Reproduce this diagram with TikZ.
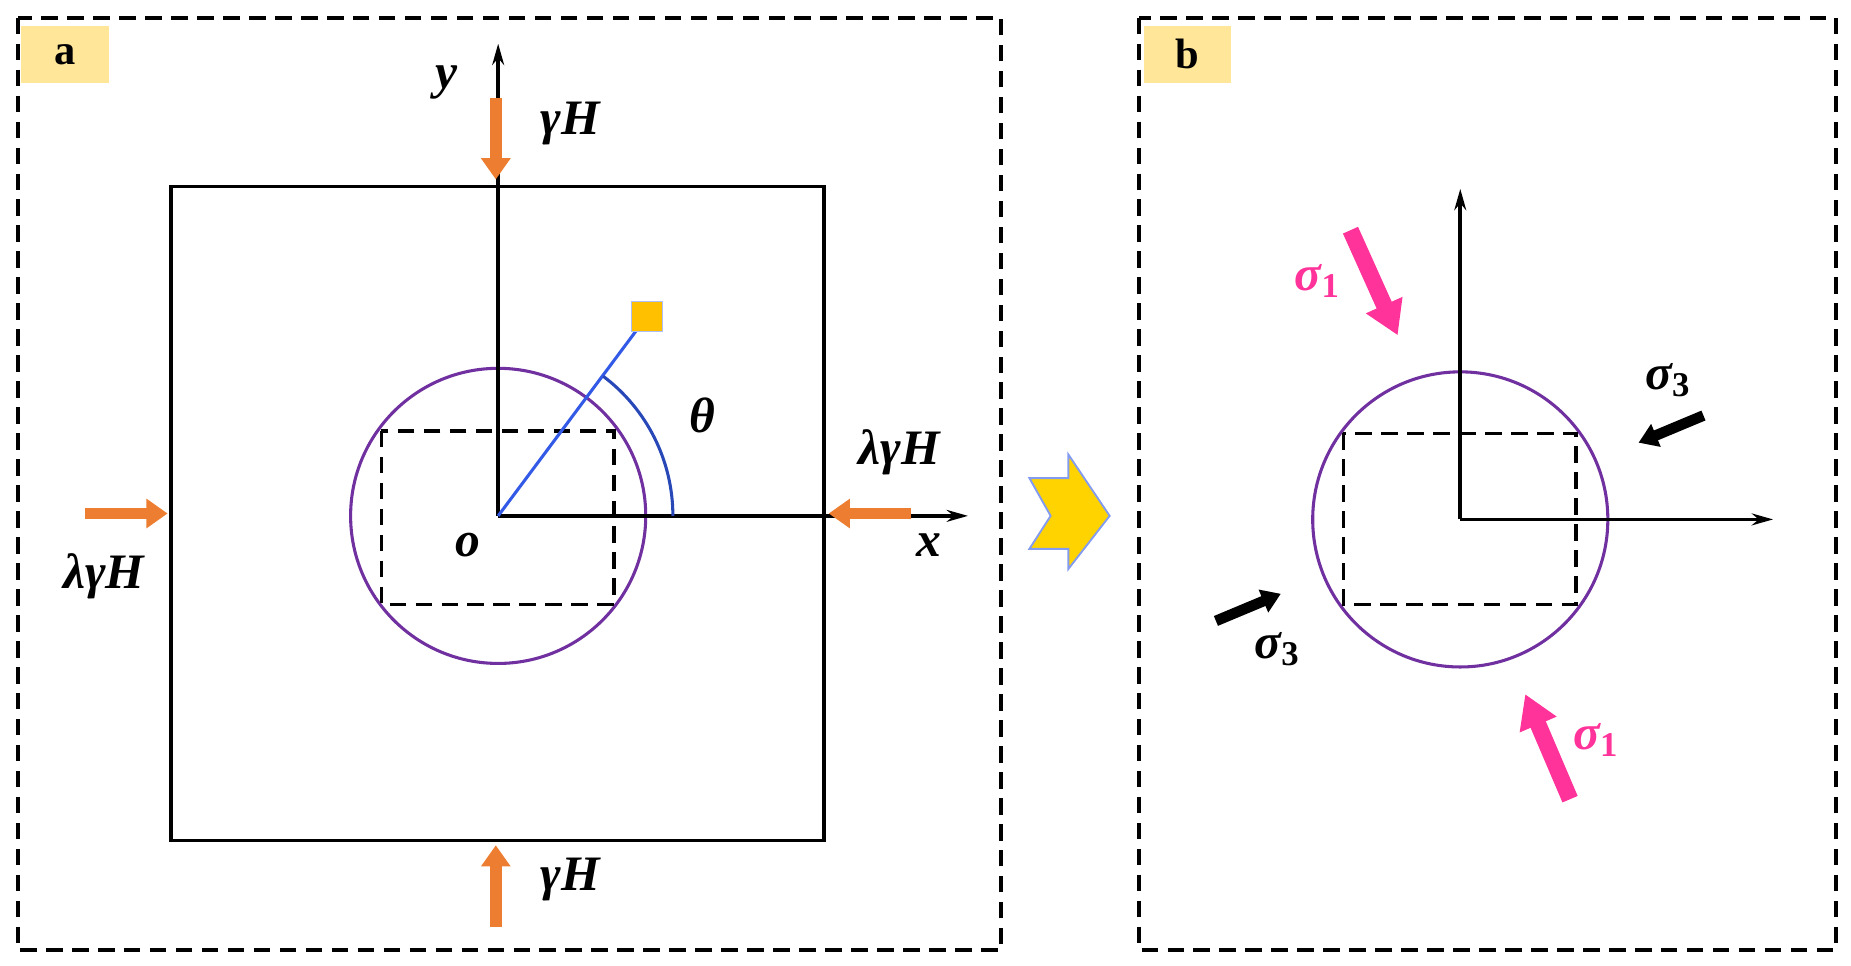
\documentclass[tikz,border=0pt]{standalone}
\usepackage{fontspec}
\setmainfont{Liberation Serif}
\usetikzlibrary{arrows.meta}
\definecolor{org}{RGB}{237,125,49}
\definecolor{pink}{RGB}{255,51,153}
\definecolor{lab}{RGB}{255,230,153}
\definecolor{purp}{RGB}{112,48,160}
\definecolor{bl}{RGB}{50,90,230}
\definecolor{gold}{RGB}{255,192,0}
\begin{document}
\begin{tikzpicture}[x=0.5pt,y=-0.5pt,
 frame/.style={line width=1.8pt,dash pattern=on 7pt off 4pt},
 box/.style={line width=1.6pt},
 axis/.style={line width=1.6pt,-{Stealth[length=9pt,width=5pt]}},
 force/.style={org,line width=5pt,-{Triangle[length=9pt,width=12pt]}},
 pf/.style={pink,line width=7pt,-{Triangle[length=14pt,width=16pt]}},
 bf/.style={black,line width=4.5pt,-{Triangle[length=8pt,width=10pt]}},
 lbl/.style={font=\fontsize{21}{21}\selectfont\bfseries\itshape,inner sep=0pt},
 tag/.style={fill=lab,minimum width=37pt,minimum height=24pt,font=\fontsize{18}{18}\selectfont\bfseries}]
\useasboundingbox (0,0) rectangle (1568,818);
\draw[frame] (15,15) rectangle (848,805);
\draw[frame] (965,15) rectangle (1555,805);
\node[tag] (ta) at (55,46) {a};
\node[tag] (tb) at (1006,46) {b};
% panel a
\draw[box] (145,158) rectangle (698,712);
\coordinate (O) at (422,437);
\coordinate (Yt) at (422,37);
\coordinate (Xr) at (820,437);
\draw[purp,line width=1.3pt] (O) circle[radius=125];
\draw[frame,line width=1.4pt] (323,365) rectangle (520,512);
\draw[axis] (O) -- (Yt);
\draw[axis] (O) -- (Xr);
\coordinate (P) at (548,268);
\draw[bl,line width=1.3pt] (O) -- (P);
\node[fill=gold,draw=bl!40,minimum size=13pt,inner sep=0pt] (sq) at (P) {};
\draw[bl!80!black,line width=1.3pt] (570,437) arc[start angle=0,end angle=-53,radius=148];
\node[lbl] (th) at (595,352) {θ};
\node[lbl] (ly) at (378,70) {y};
\node[lbl] (lx) at (787,462) {x};
\node[lbl] (lo) at (396,462) {o};
\coordinate (f1s) at (420,83); \coordinate (f1e) at (420,152);
\coordinate (f2s) at (420,785); \coordinate (f2e) at (420,716);
\coordinate (f3s) at (72,435); \coordinate (f3e) at (142,435);
\coordinate (f4s) at (772,435); \coordinate (f4e) at (702,435);
\draw[force] (f1s) -- (f1e);
\draw[force] (f2s) -- (f2e);
\draw[force] (f3s) -- (f3e);
\draw[force] (f4s) -- (f4e);
\node[lbl] (g1) at (483,105) {γH};
\node[lbl] (g2) at (483,745) {γH};
\node[lbl] (g3) at (88,488) {λγH};
\node[lbl] (g4) at (762,383) {λγH};
% chevron
\draw[fill=gold!70!yellow,draw=bl!60,line width=0.8pt] (872,405)--(905,405)--(905,385)--(940,437)--(905,482)--(905,465)--(872,465)--(890,437)--cycle;
% panel b
\coordinate (Ob) at (1237,440);
\coordinate (Ybt) at (1237,160);
\coordinate (Xbr) at (1502,440);
\draw[purp,line width=1.3pt] (Ob) circle[radius=125];
\draw[frame,line width=1.4pt] (1138,367) rectangle (1335,512);
\draw[axis] (Ob) -- (Ybt);
\draw[axis] (Ob) -- (Xbr);
\coordinate (p1s) at (1144,195); \coordinate (p1e) at (1184,284);
\coordinate (p2s) at (1330,677); \coordinate (p2e) at (1292,588);
\coordinate (b1s) at (1443,352); \coordinate (b1e) at (1388,375);
\coordinate (b2s) at (1030,526); \coordinate (b2e) at (1085,503);
\draw[pf] (p1s) -- (p1e);
\draw[pf] (p2s) -- (p2e);
\draw[bf] (b1s) -- (b1e);
\draw[bf] (b2s) -- (b2e);
\node[lbl,pink] (s1) at (1116,238) {σ\textsubscript{\upshape 1}};
\node[lbl,pink] (s2) at (1352,627) {σ\textsubscript{\upshape 1}};
\node[lbl] (s3) at (1413,322) {σ\textsubscript{\upshape 3}};
\node[lbl] (s4) at (1082,550) {σ\textsubscript{\upshape 3}};
\end{tikzpicture}
\end{document}
